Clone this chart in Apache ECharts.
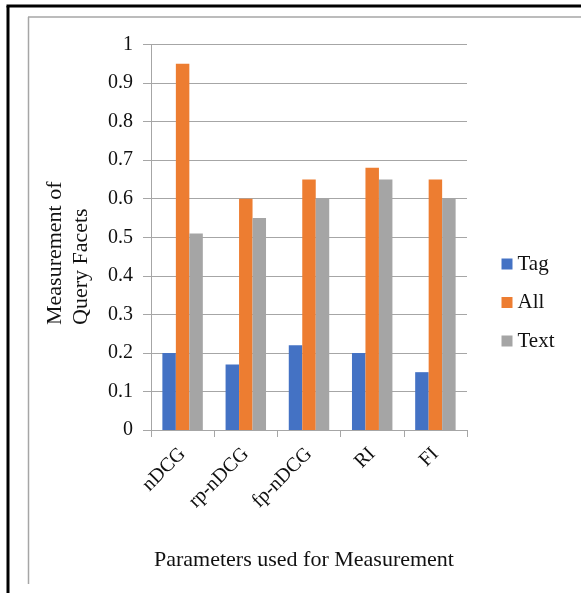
<!DOCTYPE html>
<html>
<head>
<meta charset="utf-8">
<script src="https://cdn.jsdelivr.net/npm/echarts@6/dist/echarts.min.js"></script>
<style>
html,body{margin:0;padding:0;background:#fff;}
#chart{width:581px;height:593px;}
</style>
</head>
<body>
<div id="chart"></div>
<script>
var categories = ['nDCG', 'rp-nDCG', 'fp-nDCG', 'RI', 'FI'];
var tagValues = [0.20, 0.17, 0.22, 0.20, 0.15];
var allValues = [0.95, 0.60, 0.65, 0.68, 0.65];
var textValues = [0.51, 0.55, 0.60, 0.65, 0.60];
var yTicks = [0, 0.1, 0.2, 0.3, 0.4, 0.5, 0.6, 0.7, 0.8, 0.9, 1];
var yTitleLines = ['Measurement of', 'Query Facets'];
var xTitle = 'Parameters used for Measurement';

var FONT = '"Liberation Serif", "Times New Roman", serif';
var chart = echarts.init(document.getElementById('chart'));
chart.setOption({
  animation: false,
  backgroundColor: '#fff',
  textStyle: { fontFamily: FONT, color: '#111' },
  grid: { left: 151, right: 114, top: 44.5, bottom: 163 },
  legend: {
    orient: 'vertical',
    left: 501.5, top: 253, padding: 0,
    itemWidth: 11, itemHeight: 11,
    itemGap: 16.5,
    icon: 'rect',
    textStyle: { fontFamily: FONT, fontSize: 21, color: '#111', lineHeight: 22 },
    data: ['Tag', 'All', 'Text']
  },
  xAxis: {
    type: 'category',
    data: categories,
    name: xTitle,
    nameLocation: 'middle',
    nameGap: 119,
    nameTextStyle: { fontFamily: FONT, fontSize: 22, color: '#111', padding: [0, 10, 0, 0] },
    axisLine: { lineStyle: { color: '#a6a6a6', width: 1 } },
    axisTick: { show: true, length: 7, lineStyle: { color: '#a6a6a6' } },
    axisLabel: { rotate: 45, margin: 21, fontFamily: FONT, fontSize: 20, color: '#111', interval: 0 }
  },
  yAxis: {
    type: 'value',
    min: 0, max: 1, interval: 0.1,
    axisLine: { show: true, lineStyle: { color: '#a6a6a6', width: 1 } },
    axisTick: { show: true, length: 8, lineStyle: { color: '#a6a6a6' } },
    splitLine: { show: true, lineStyle: { color: '#a6a6a6', width: 1 } },
    axisLabel: {
      margin: 18, fontFamily: FONT, fontSize: 20, color: '#111',
      formatter: function (v) {
        var t = yTicks.filter(function (x) { return Math.abs(x - v) < 1e-9; });
        return t.length ? String(t[0]) : '';
      }
    }
  },
  series: [
    { name: 'Tag', type: 'bar', data: tagValues, itemStyle: { color: '#4472C4' }, barGap: '0%', barCategoryGap: '36%' },
    { name: 'All', type: 'bar', data: allValues, itemStyle: { color: '#ED7D31' }, barGap: '0%', barCategoryGap: '36%' },
    { name: 'Text', type: 'bar', data: textValues, itemStyle: { color: '#A5A5A5' }, barGap: '0%', barCategoryGap: '36%' }
  ],
  graphic: [
    { type: 'line', shape: { x1: 8, y1: 6, x2: 8, y2: 593 }, style: { stroke: '#000', lineWidth: 3 } },
    { type: 'line', shape: { x1: 6.5, y1: 6, x2: 581, y2: 6 }, style: { stroke: '#000', lineWidth: 3 } },
    { type: 'line', shape: { x1: 28.5, y1: 17, x2: 28.5, y2: 584 }, style: { stroke: '#a6a6a6', lineWidth: 1.5 } },
    { type: 'line', shape: { x1: 28, y1: 17, x2: 581, y2: 17 }, style: { stroke: '#a6a6a6', lineWidth: 1.5 } },
    { type: 'text', x: 55.5, y: 325, rotation: Math.PI / 2,
      style: { text: yTitleLines[0], font: '22px ' + FONT, fill: '#111', textAlign: 'left', textVerticalAlign: 'middle' } },
    { type: 'text', x: 81, y: 325, rotation: Math.PI / 2,
      style: { text: yTitleLines[1], font: '22px ' + FONT, fill: '#111', textAlign: 'left', textVerticalAlign: 'middle' } }
  ]
});
</script>
</body>
</html>
